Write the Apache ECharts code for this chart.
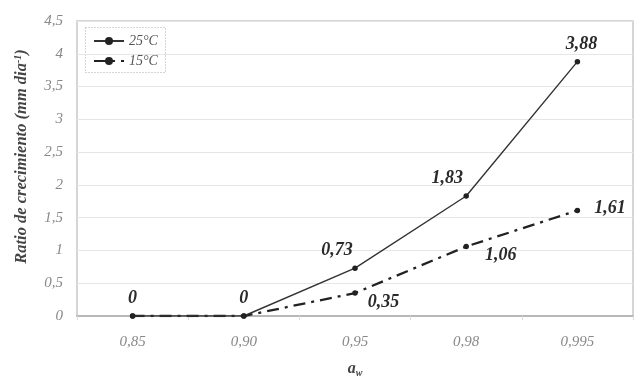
<!DOCTYPE html>
<html><head><meta charset="utf-8">
<script src="https://cdn.jsdelivr.net/npm/echarts@6/dist/echarts.min.js"></script>
<style>html,body{margin:0;padding:0;background:#fff}#c{width:637px;height:379px}</style>
</head><body><div id="c"></div>
<script>
var categories = ['0,85', '0,90', '0,95', '0,98', '0,995'];
var yTicks = ['0', '0,5', '1', '1,5', '2', '2,5', '3', '3,5', '4', '4,5'];
var seriesNames = ['25°C', '15°C'];
var values25 = [0, 0, 0.73, 1.83, 3.88];
var values15 = [0, 0, 0.35, 1.06, 1.61];

var serif = '"Liberation Serif", "DejaVu Serif", serif';
function fmt(v) { return String(v).replace('.', ','); }

var pos25 = [
  {position: 'top', distance: 6},
  {position: 'top', distance: 6},
  {position: 'top', distance: 6, offset: [-18, 0]},
  {position: 'top', distance: 6, offset: [-19, 0]},
  {position: 'top', distance: 6, offset: [4, 0]}
];
var pos15 = [
  {show: false}, {show: false},
  {position: 'right', distance: 4, offset: [6, 9]},
  {position: 'right', distance: 4, offset: [12, 9]},
  {position: 'right', distance: 8, offset: [6, -2]}
];
function build(vals, pos) {
  return vals.map(function (v, i) { return {value: v, label: pos[i]}; });
}
var labelStyle = {
  show: true, fontFamily: serif, fontStyle: 'italic', fontWeight: 'bold',
  fontSize: 18, color: '#2a2a2a',
  formatter: function (p) { return fmt(p.value); }
};

var chart = echarts.init(document.getElementById('c'));
chart.setOption({
  animation: false,
  grid: {left: 77, right: 4, top: 21, bottom: 63, show: true, borderColor: '#c8c8c8', borderWidth: 1.5,
         containLabel: false, outerBoundsMode: 'none'},
  legend: {
    left: 88, top: 29, orient: 'vertical', itemGap: 6, itemWidth: 30, itemHeight: 10,
    textStyle: {fontFamily: serif, fontStyle: 'italic', fontSize: 14, color: '#555'},
    data: seriesNames
  },
  graphic: [{
    type: 'rect', left: 83, top: 25, shape: {width: 80, height: 45},
    style: {fill: 'none', stroke: '#aaa', lineWidth: 1, lineDash: [1, 2]}
  }],
  xAxis: {
    type: 'category', data: categories,
    name: '{a|a}{w|w}', nameLocation: 'middle', nameGap: 44,
    nameTextStyle: {rich: {
      a: {fontFamily: serif, fontStyle: 'italic', fontWeight: 'bold', fontSize: 16, color: '#444'},
      w: {fontFamily: serif, fontStyle: 'italic', fontWeight: 'bold', fontSize: 10, color: '#444', verticalAlign: 'bottom', padding: [8, 0, 0, 0]}
    }},
    axisLine: {lineStyle: {color: '#b8b8b8', width: 2}},
    axisTick: {show: true, length: 4, lineStyle: {color: '#ddd'}},
    axisLabel: {fontFamily: serif, fontStyle: 'italic', fontSize: 15, color: '#888', margin: 19}
  },
  yAxis: {
    type: 'value', min: 0, max: 4.5, interval: 0.5,
    name: '{t|Ratio de crecimiento (mm dia}{s|-1}{t|)}', nameLocation: 'middle', nameGap: 46,
    nameTextStyle: {padding: [0, 0, 0, 24], rich: {
      t: {fontFamily: serif, fontStyle: 'italic', fontWeight: 'bold', fontSize: 16.5, color: '#444'},
      s: {fontFamily: serif, fontStyle: 'italic', fontWeight: 'bold', fontSize: 10, color: '#444', verticalAlign: 'top', padding: [0, 0, 8, 0]}
    }},
    axisLine: {show: false}, axisTick: {show: false},
    axisLabel: {fontFamily: serif, fontStyle: 'italic', fontSize: 15, color: '#888', margin: 14,
      formatter: function (v) { return yTicks[Math.round(v / 0.5)]; }},
    splitLine: {lineStyle: {color: '#e6e6e6', width: 1}}
  },
  series: [
    {
      name: seriesNames[0], type: 'line', data: build(values25, pos25),
      symbol: 'circle', symbolSize: 5.5, itemStyle: {color: '#222'},
      lineStyle: {color: '#333', width: 1.4}, label: labelStyle, z: 3
    },
    {
      name: seriesNames[1], type: 'line', data: build(values15, pos15),
      symbol: 'circle', symbolSize: 5.5, itemStyle: {color: '#222'},
      lineStyle: {color: '#222', width: 2.3, type: [12, 6, 3, 6]}, label: labelStyle, z: 2
    }
  ]
});
</script></body></html>
